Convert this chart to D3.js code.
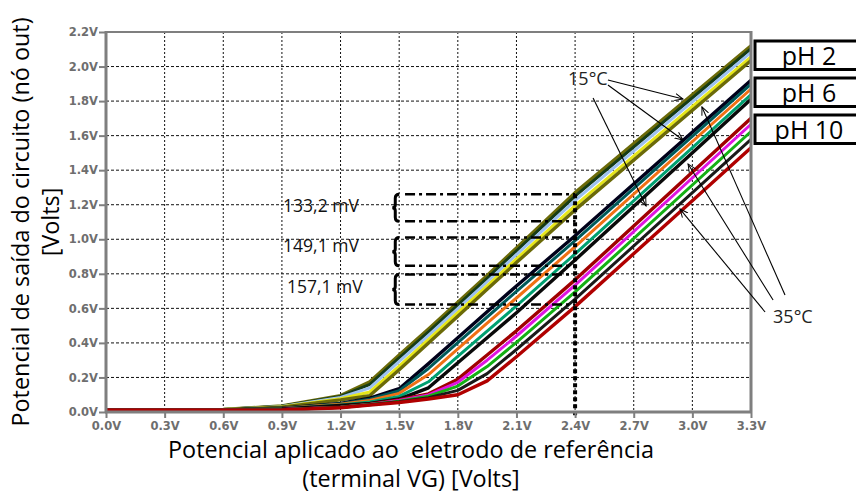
<!DOCTYPE html>
<html><head><meta charset="utf-8">
<script src="https://cdn.jsdelivr.net/npm/d3@7"></script>
<style>
html,body{margin:0;padding:0;background:#fff;}
svg{display:block;}
text{white-space:pre;}
</style></head><body>
<svg id="c" width="856" height="493"></svg>
<script>
// ---------- data ----------
const vgPoints = [0, 0.6, 0.9, 1.2, 1.35, 1.5, 1.65, 1.8, 1.95, 2.1, 2.4, 3.3];
const phLabels = ["pH 2", "pH 6", "pH 10"];
const temperatures = ["15°C", "20°C", "25°C", "30°C", "35°C"];

const ph2Series = [
  [0.010, 0.015, 0.035, 0.095, 0.175, 0.330, 0.480, 0.635, 0.790, 0.950, 1.270, 2.120],
  [0.010, 0.015, 0.034, 0.090, 0.160, 0.313, 0.464, 0.619, 0.774, 0.933, 1.250, 2.103],
  [0.010, 0.014, 0.032, 0.084, 0.140, 0.293, 0.444, 0.599, 0.754, 0.911, 1.225, 2.082],
  [0.010, 0.014, 0.030, 0.077, 0.116, 0.266, 0.420, 0.575, 0.730, 0.886, 1.195, 2.056],
  [0.010, 0.013, 0.028, 0.070, 0.095, 0.245, 0.400, 0.555, 0.710, 0.865, 1.170, 2.035]
];
const ph6Series = [
  [0.010, 0.012, 0.022, 0.050, 0.080, 0.135, 0.280, 0.430, 0.580, 0.730, 1.020, 1.920],
  [0.010, 0.012, 0.021, 0.048, 0.074, 0.123, 0.252, 0.401, 0.550, 0.699, 0.992, 1.898],
  [0.010, 0.012, 0.020, 0.045, 0.067, 0.108, 0.217, 0.365, 0.515, 0.660, 0.957, 1.870],
  [0.010, 0.011, 0.019, 0.041, 0.058, 0.090, 0.175, 0.322, 0.468, 0.614, 0.915, 1.838],
  [0.010, 0.011, 0.018, 0.038, 0.050, 0.075, 0.140, 0.285, 0.430, 0.575, 0.880, 1.810]
];
const ph10Series = [
  [0.010, 0.010, 0.014, 0.028, 0.045, 0.070, 0.105, 0.190, 0.330, 0.470, 0.765, 1.700],
  [0.010, 0.010, 0.014, 0.027, 0.044, 0.067, 0.099, 0.172, 0.300, 0.440, 0.734, 1.666],
  [0.010, 0.010, 0.013, 0.027, 0.043, 0.063, 0.092, 0.150, 0.263, 0.403, 0.695, 1.624],
  [0.010, 0.010, 0.013, 0.026, 0.042, 0.059, 0.083, 0.125, 0.222, 0.362, 0.653, 1.578],
  [0.010, 0.010, 0.012, 0.025, 0.040, 0.055, 0.075, 0.100, 0.180, 0.320, 0.610, 1.530]
];
const ph2Colors = ["#6b6a08", "#163c16", "#9cc0f0", "#e6e61a", "#6b6a08"];
const ph6Colors = ["#00001a", "#005a5a", "#f07014", "#00a070", "#0a0a0a"];
const ph10Colors = ["#a00000", "#e014e0", "#14b014", "#1a1a1a", "#b00000"];

const xTicks = [0, 0.3, 0.6, 0.9, 1.2, 1.5, 1.8, 2.1, 2.4, 2.7, 3.0, 3.3];
const yTicks = [0, 0.2, 0.4, 0.6, 0.8, 1.0, 1.2, 1.4, 1.6, 1.8, 2.0, 2.2];

const deltaLabels = ["133,2 mV", "149,1 mV", "157,1 mV"];
const deltaLevels = [[1.26, 1.104], [1.01, 0.846], [0.796, 0.622]];
const deltaLabelPos = [[0.906, 1.158], [0.906, 0.926], [0.926, 0.689]];
const vgMark = 2.4;
const braceVg = 1.48;
const bracketStartVg = 1.53;

const tempLow = "15°C", tempHigh = "35°C";
const tempLowPos = [2.364, 1.893];
const tempHighPos = [3.413, 0.515];
const arrowsLow = [[2.568, 1.922, 2.952, 1.812], [2.568, 1.893, 2.952, 1.575], [2.492, 1.818, 2.763, 1.193]];
const arrowsHigh = [[3.372, 0.579, 2.937, 1.175], [3.413, 0.648, 2.978, 1.436], [3.474, 0.677, 3.049, 1.766]];

// ---------- drawing ----------
const svg = d3.select("#c");
const x = d3.scaleLinear().domain([0, 3.3]).range([106, 751]);
const y = d3.scaleLinear().domain([0, 2.2]).range([412, 32]);
const tf = "'Open Sans', 'Noto Sans', sans-serif";

const defs = svg.append("defs");
defs.append("marker").attr("id", "ah").attr("viewBox", "0 0 10 10")
  .attr("refX", 9).attr("refY", 5).attr("markerWidth", 9).attr("markerHeight", 9)
  .attr("markerUnits", "userSpaceOnUse").attr("orient", "auto")
  .append("path").attr("d", "M0,1 L9,5 L0,9").attr("fill", "none")
  .attr("stroke", "#000").attr("stroke-width", 1.1);

// grid
const grid = svg.append("g");
grid.selectAll("line.v").data(xTicks.slice(1, -1)).join("line")
  .attr("x1", d => x(d)).attr("x2", d => x(d)).attr("y1", y(2.2)).attr("y2", y(0))
  .attr("stroke", "#111").attr("stroke-width", 1).attr("stroke-dasharray", "2,2");
grid.selectAll("line.h").data(yTicks.slice(1, -1)).join("line")
  .attr("x1", x(0)).attr("x2", x(3.3)).attr("y1", d => y(d)).attr("y2", d => y(d))
  .attr("stroke", "#111").attr("stroke-width", 1).attr("stroke-dasharray", "3,2");

// curves
const line = d3.line().x((d, i) => x(vgPoints[i])).y(d => y(d));
const groups = [[ph2Series, ph2Colors], [ph6Series, ph6Colors], [ph10Series, ph10Colors]];
const cg = svg.append("g");
groups.forEach(([series, colors]) => {
  series.forEach((s, i) => {
    cg.append("path").attr("d", line(s)).attr("fill", "none")
      .attr("stroke", colors[i]).attr("stroke-width", (i === 0 || i === 4) ? 3.4 : 3)
      .attr("stroke-linejoin", "round");
  });
});

// delta brackets
const ann = svg.append("g");
deltaLevels.forEach(([top, bot], k) => {
  [top, bot].forEach(v => {
    ann.append("line").attr("x1", x(bracketStartVg)).attr("x2", x(vgMark))
      .attr("y1", y(v)).attr("y2", y(v)).attr("stroke", "#000").attr("stroke-width", 2.5)
      .attr("stroke-dasharray", "10,4,3,4");
  });
  const x0 = x(braceVg), y1 = y(top), y2 = y(bot), ym = (y1 + y2) / 2;
  ann.append("path")
    .attr("d", `M${x0 + 4},${y1} Q${x0},${y1} ${x0},${y1 + 4} L${x0},${ym - 3} Q${x0},${ym} ${x0 - 3},${ym} Q${x0},${ym} ${x0},${ym + 3} L${x0},${y2 - 4} Q${x0},${y2} ${x0 + 4},${y2}`)
    .attr("fill", "none").attr("stroke", "#000").attr("stroke-width", 3);
  ann.append("text").attr("x", x(deltaLabelPos[k][0])).attr("y", y(deltaLabelPos[k][1]))
    .attr("font-family", tf).attr("font-size", 17.5)
    .attr("fill", "#111").text(deltaLabels[k]);
});
ann.append("line").attr("x1", x(vgMark)).attr("x2", x(vgMark))
  .attr("y1", y(deltaLevels[0][0])).attr("y2", y(0) + 4)
  .attr("stroke", "#000").attr("stroke-width", 4).attr("stroke-dasharray", "4,3");

// axes frame
const frame = svg.append("g").attr("stroke", "#7f7f7f");
frame.append("line").attr("x1", x(0)).attr("x2", x(3.3)).attr("y1", y(2.2)).attr("y2", y(2.2)).attr("stroke-width", 2);
frame.append("line").attr("x1", x(3.3)).attr("x2", x(3.3)).attr("y1", y(2.2) - 1).attr("y2", y(0)).attr("stroke-width", 3);
frame.append("line").attr("x1", x(0)).attr("x2", x(0)).attr("y1", y(2.2) - 1).attr("y2", y(0) + 1).attr("stroke-width", 3);
frame.append("line").attr("x1", x(0) - 1).attr("x2", x(3.3) + 1).attr("y1", y(0)).attr("y2", y(0)).attr("stroke-width", 3);

const tickFont = g => {
  g.select(".domain").remove();
  g.selectAll(".tick line").attr("stroke", "#7f7f7f").attr("stroke-width", 2);
  g.selectAll(".tick text").attr("fill", "#6e6e6e").attr("font-family", "'DejaVu Sans', sans-serif")
    .attr("font-weight", "bold").attr("font-size", 11.5);
};
svg.append("g").attr("transform", `translate(${x(0)},0)`)
  .call(d3.axisLeft(y).tickValues(yTicks).tickFormat(d => d.toFixed(1) + "V").tickSize(7).tickPadding(1))
  .call(tickFont);
svg.append("g").attr("transform", `translate(0,${y(0)})`)
  .call(d3.axisBottom(x).tickValues(xTicks).tickFormat(d => d.toFixed(1) + "V").tickSize(6).tickPadding(4))
  .call(tickFont);

// temperature annotations
const tg = svg.append("g");
tg.selectAll("line.a").data(arrowsLow.concat(arrowsHigh)).join("line")
  .attr("x1", d => x(d[0])).attr("y1", d => y(d[1])).attr("x2", d => x(d[2])).attr("y2", d => y(d[3]))
  .attr("stroke", "#000").attr("stroke-width", 1.1).attr("marker-end", "url(#ah)");
tg.append("text").attr("x", x(tempLowPos[0])).attr("y", y(tempLowPos[1]))
  .attr("font-family", tf).attr("font-size", 18).attr("fill", "#222").text(tempLow);
tg.append("text").attr("x", x(tempHighPos[0])).attr("y", y(tempHighPos[1]))
  .attr("font-family", tf).attr("font-size", 18).attr("fill", "#222").text(tempHigh);

// pH legend boxes
const lg = svg.append("g");
phLabels.forEach((p, i) => {
  const top = 41 + i * 37;
  lg.append("rect").attr("x", 755).attr("y", top).attr("width", 120).attr("height", 28.5)
    .attr("fill", "#fff").attr("stroke", "#000").attr("stroke-width", 3);
  lg.append("text").attr("x", 809).attr("y", top + 23.5).attr("text-anchor", "middle")
    .attr("font-family", tf).attr("font-size", 25).attr("fill", "#000").text(p);
});

// axis titles
const titleSize = 23.4;
svg.append("text").attr("x", 411).attr("y", 458).attr("text-anchor", "middle")
  .attr("font-family", tf).attr("font-size", titleSize).attr("fill", "#000")
  .text("Potencial aplicado ao  eletrodo de referência");
svg.append("text").attr("x", 411).attr("y", 487).attr("text-anchor", "middle")
  .attr("font-family", tf).attr("font-size", titleSize).attr("fill", "#000")
  .text("(terminal VG) [Volts]");
svg.append("text").attr("transform", "translate(29,222) rotate(-90)").attr("text-anchor", "middle")
  .attr("font-family", tf).attr("font-size", titleSize).attr("fill", "#000")
  .text("Potencial de saída do circuito (nó out)");
svg.append("text").attr("transform", "translate(59,222) rotate(-90)").attr("text-anchor", "middle")
  .attr("font-family", tf).attr("font-size", titleSize).attr("fill", "#000")
  .text("[Volts]");
</script>
</body></html>
